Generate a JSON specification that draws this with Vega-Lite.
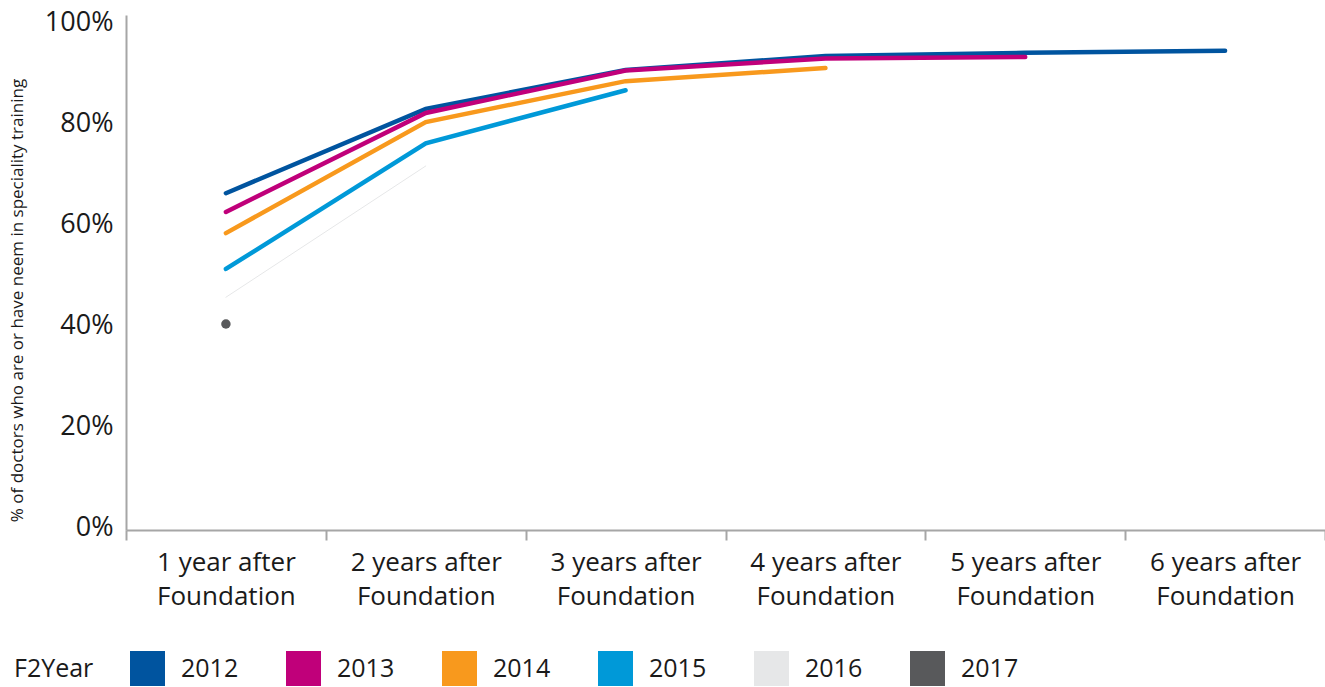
{
  "$schema": "https://vega.github.io/schema/vega-lite/v6.json",
  "autosize": "none",
  "width": 1199,
  "height": 515,
  "padding": {"left": 126, "top": 15, "right": 0, "bottom": 157},
  "config": {
    "view": {"stroke": null},
    "font": "Open Sans"
  },
  "data": {
    "values": [
      {"year": "2012", "period": "1 year after|Foundation", "pct": 0.667},
      {"year": "2012", "period": "2 years after|Foundation", "pct": 0.834},
      {"year": "2012", "period": "3 years after|Foundation", "pct": 0.911},
      {"year": "2012", "period": "4 years after|Foundation", "pct": 0.939},
      {"year": "2012", "period": "5 years after|Foundation", "pct": 0.945},
      {"year": "2012", "period": "6 years after|Foundation", "pct": 0.949},
      {"year": "2013", "period": "1 year after|Foundation", "pct": 0.630},
      {"year": "2013", "period": "2 years after|Foundation", "pct": 0.826},
      {"year": "2013", "period": "3 years after|Foundation", "pct": 0.910},
      {"year": "2013", "period": "4 years after|Foundation", "pct": 0.934},
      {"year": "2013", "period": "5 years after|Foundation", "pct": 0.937},
      {"year": "2014", "period": "1 year after|Foundation", "pct": 0.588},
      {"year": "2014", "period": "2 years after|Foundation", "pct": 0.808},
      {"year": "2014", "period": "3 years after|Foundation", "pct": 0.889},
      {"year": "2014", "period": "4 years after|Foundation", "pct": 0.915},
      {"year": "2015", "period": "1 year after|Foundation", "pct": 0.517},
      {"year": "2015", "period": "2 years after|Foundation", "pct": 0.766},
      {"year": "2015", "period": "3 years after|Foundation", "pct": 0.871},
      {"year": "2016", "period": "1 year after|Foundation", "pct": 0.461},
      {"year": "2016", "period": "2 years after|Foundation", "pct": 0.721},
      {"year": "2017", "period": "1 year after|Foundation", "pct": 0.408}
    ]
  },
  "encoding": {
    "x": {
      "field": "period",
      "type": "nominal",
      "sort": null,
      "scale": {"type": "band", "paddingInner": 0, "paddingOuter": 0},
      "axis": {
        "title": null,
        "labelAngle": 0,
        "labelExpr": "split(datum.label, '|')",
        "labelFontSize": 26,
        "labelLineHeight": 34,
        "labelColor": "#1a1a1a",
        "labelPadding": 9,
        "tickBand": "extent",
        "tickSize": 10,
        "tickColor": "#a6a6a6",
        "domainColor": "#a6a6a6",
        "domainWidth": 2,
        "tickWidth": 2,
        "grid": false
      }
    },
    "y": {
      "field": "pct",
      "type": "quantitative",
      "scale": {"domain": [0, 1.02], "nice": false},
      "axis": {
        "title": "% of doctors who are or have neem in speciality training",
        "titleFontSize": 17,
        "titleFontWeight": "normal",
        "titleColor": "#1a1a1a",
        "titleX": -109,
        "titleY": 285,
        "titleAngle": -90,
        "titleAlign": "center",
        "titleBaseline": "middle",
        "values": [0, 0.2, 0.4, 0.6, 0.8, 1.0],
        "format": ".0%",
        "labelFontSize": 27,
        "labelColor": "#1a1a1a",
        "labelPadding": 13,
        "labelOffset": -3,
        "ticks": false,
        "grid": false,
        "domainColor": "#a6a6a6",
        "domainWidth": 2
      }
    }
  },
  "layer": [
    {
      "mark": {"type": "line", "strokeCap": "round"},
      "encoding": {
        "color": {
          "field": "year",
          "type": "nominal",
          "scale": {
            "domain": ["2012", "2013", "2014", "2015", "2016", "2017"],
            "range": ["#00549f", "#c0007a", "#f8991d", "#0099d8", "#e6e7e8", "#58595b"]
          },
          "legend": {
            "title": "F2Year",
            "orient": "none",
            "direction": "horizontal",
            "legendX": -112,
            "legendY": 636,
            "titleOrient": "left",
            "titleFontSize": 25,
            "titleFontWeight": "normal",
            "titleColor": "#1a1a1a",
            "titlePadding": 36,
            "labelFontSize": 25,
            "labelColor": "#1a1a1a",
            "labelOffset": 16,
            "columnPadding": 47,
            "symbolType": "square",
            "symbolSize": 1225,
            "symbolStrokeWidth": 0,
            "encode": {
              "symbols": {
                "update": {
                  "fill": {"scale": "color", "field": "value"},
                  "strokeWidth": {"value": 0}
                }
              }
            }
          }
        },
        "strokeWidth": {
          "condition": {"test": "datum.year == '2016'", "value": 1},
          "value": 4.5
        }
      }
    },
    {
      "transform": [{"filter": "datum.year == '2017'"}],
      "mark": {"type": "circle", "size": 90, "opacity": 1, "color": "#58595b"}
    }
  ]
}
